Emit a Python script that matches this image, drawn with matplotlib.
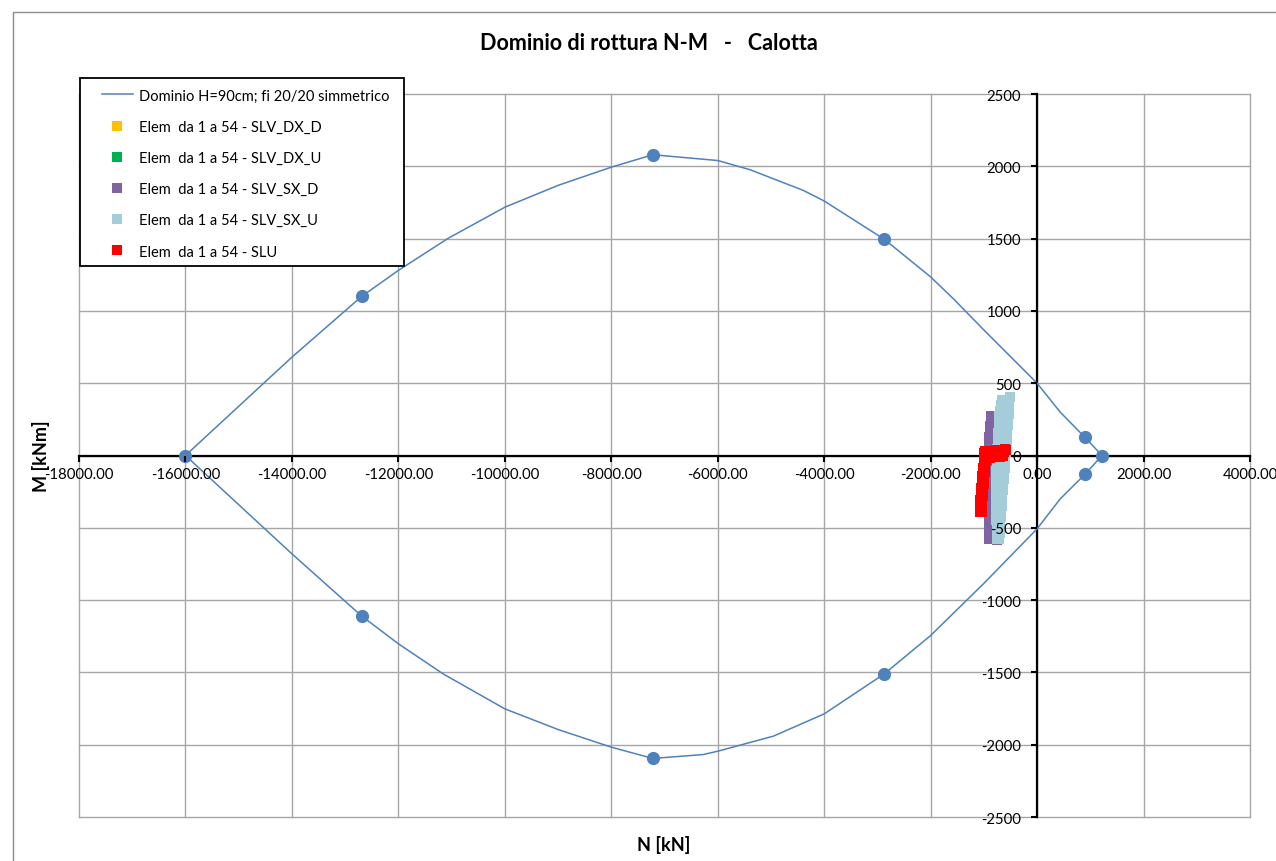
import matplotlib
matplotlib.use("Agg")
import matplotlib.pyplot as plt
from matplotlib.patches import Rectangle
from matplotlib.lines import Line2D
from matplotlib.ticker import FuncFormatter

plt.rcParams['font.family'] = ['Lato', 'DejaVu Sans']

# ---------------------------------------------------------------- data
# N-M interaction domain (closed contour, N in kN, M in kNm)
domain_n = [-16000, -14000, -12690, -12000, -11060, -10000, -9000, -8000, -7220,
            -6000, -5390, -4390, -4000, -2870, -2000, -1570, -1000, 0, 434, 900,
            1220, 900, 434, 0, -1007, -2000, -2870, -4000, -4955, -6000, -6270,
            -7220, -8000, -9000, -10000, -11160, -12000, -12690, -14000, -16000]
domain_m = [0, 680, 1100, 1280, 1503, 1717, 1868, 1994, 2080,
            2040, 1976, 1833, 1760, 1495, 1235, 1083, 868, 500, 300, 125,
            0, -130, -300, -507, -887, -1245, -1510, -1787, -1941, -2045, -2068,
            -2095, -2017, -1895, -1752, -1510, -1302, -1110, -680, 0]

# characteristic points of the domain
key_n = [-16000, -12690, -7220, -2870, 900, 1220, 900, -2870, -7220, -12690]
key_m = [0, 1100, 2080, 1495, 125, 0, -130, -1510, -2095, -1110]

# SLV_SX_U combination, elements 1-54
sx_u_n = [-512, -668, -520, -684, -528, -700, -535, -708, -543, -714, -550, -720,
          -558, -726, -566, -732, -573, -738, -581, -744, -589, -750, -596, -755,
          -604, -760, -612, -764, -619, -768, -627, -772, -634, -774, -642, -776,
          -650, -778, -657, -778, -665, -776, -672, -772, -680, -768, -688, -762,
          -695, -756, -703, -750, -708, -745]
sx_u_m = [402, 386, 365, 348, 326, 309, 290, 271, 251, 233, 214, 195,
          176, 158, 139, 120, 101, 82, 63, 45, 26, 7, -12, -31,
          -50, -69, -87, -106, -125, -144, -163, -182, -200, -219, -238, -257,
          -276, -295, -313, -332, -351, -370, -389, -408, -426, -445, -464, -483,
          -502, -521, -539, -558, -577, -580]

# SLV_SX_D combination, elements 1-54
sx_d_n = [-865, -720, -872, -722, -880, -724, -888, -726, -895, -728, -900, -730,
          -905, -732, -908, -734, -910, -735, -910, -736, -910, -737, -908, -738,
          -907, -739, -906, -740, -905, -740, -904, -741, -903, -741, -902, -742,
          -901, -742, -900, -743, -900, -743, -900, -744, -899, -744, -898, -745,
          -897, -745, -896, -746, -892, -746]
sx_d_m = [272, 265, 237, 230, 201, 194, 166, 158, 130, 122, 95, 87,
          59, 51, 24, 16, -12, -20, -47, -55, -83, -91, -118, -126,
          -154, -162, -189, -197, -225, -233, -260, -268, -296, -304, -331, -339,
          -367, -375, -402, -410, -438, -446, -473, -481, -509, -517, -544, -552,
          -565, -570, -575, -578, -580, -582]

# SLV_DX_D / SLV_DX_U combinations (same forces as the SX ones)
dx_d_n, dx_d_m = list(sx_d_n), list(sx_d_m)
dx_u_n, dx_u_m = list(sx_u_n), list(sx_u_m)

# SLU combination, elements 1-54
slu_n = [-1079, -1044, -1075, -1040, -1070, -1035, -1065, -1030, -1059, -1024,
         -1053, -1018, -1047, -1012, -1041, -1006, -1035, -1000, -1028, -993,
         -1021, -986, -1013, -978, -1005, -970, -997, -962, -990, -955,
         -985, -960, -900, -840, -780, -720, -660, -610, -590,
         -940, -880, -820, -760, -700, -640,
         -920, -850, -790, -730, -670, -620, -960, -1000, -975]
slu_m = [-392, -392, -364, -364, -336, -336, -308, -308, -280, -280,
         -252, -252, -224, -224, -196, -196, -168, -168, -140, -140,
         -112, -112, -84, -84, -56, -56, -28, -28, 0, 0,
         30, 32, 33, 34, 36, 38, 41, 44, 40,
         -15, -14, -13, -11, -9, -5,
         10, 11, 12, 14, 17, 22, 15, 15, -10]

legend_labels = ["Dominio H=90cm; fi 20/20 simmetrico",
                 "Elem  da 1 a 54 - SLV_DX_D",
                 "Elem  da 1 a 54 - SLV_DX_U",
                 "Elem  da 1 a 54 - SLV_SX_D",
                 "Elem  da 1 a 54 - SLV_SX_U",
                 "Elem  da 1 a 54 - SLU"]

x_ticks = list(range(-18000, 4001, 2000))
y_ticks = list(range(-2500, 2501, 500))

# ---------------------------------------------------------------- styling
BLUE = '#4F81BD'
C_DX_D = '#FFC000'
C_DX_U = '#00B050'
C_SX_D = '#8064A2'
C_SX_U = '#A5CDD9'
C_SLU = '#FF0000'
GRID = '#A6A6A6'

W, H = 1276, 862
fig = plt.figure(figsize=(W / 100, H / 100), dpi=100)


def fx(px):
    return px / W


def fy(py):
    return 1 - py / H


ax = fig.add_axes([fx(79), fy(818), fx(1250) - fx(79), fy(95) - fy(818)])
ax.set_xlim(-18000, 4000)
ax.set_ylim(-2500, 2500)
ax.set_xticks(x_ticks)
ax.set_yticks(y_ticks)
ax.xaxis.set_major_formatter(FuncFormatter(lambda v, p: f"{v:.2f}"))
ax.yaxis.set_major_formatter(FuncFormatter(lambda v, p: f"{int(v)}"))

# gridlines under everything, tick labels above the data
for xv in x_ticks:
    ax.axvline(xv, color=GRID, lw=1.0, zorder=0.2, clip_on=False)
for yv in y_ticks:
    ax.axhline(yv, color=GRID, lw=1.0, zorder=0.2, clip_on=False)
ax.xaxis.set_zorder(20)
ax.yaxis.set_zorder(20)

for side in ('top', 'right'):
    ax.spines[side].set_visible(False)
ax.spines['left'].set_position(('data', 0))
ax.spines['bottom'].set_position(('data', 0))
for side in ('left', 'bottom'):
    ax.spines[side].set_linewidth(1.6)
    ax.spines[side].set_color('black')
    ax.spines[side].set_zorder(1.5)

ax.tick_params(axis='x', direction='out', length=4.5, width=1.5, pad=4,
               labelsize=10.7, colors='black')
ax.tick_params(axis='y', direction='out', length=4.5, width=1.5, pad=7,
               labelsize=10.7, colors='black')

# domain contour and its characteristic points
ax.plot(domain_n, domain_m, color=BLUE, lw=1.1, zorder=3, clip_on=False)
ax.plot(key_n, key_m, 'o', color=BLUE, ms=9.5, mew=0, zorder=4, clip_on=False)

# element forces
MS = 6.5
ax.plot(dx_d_n, dx_d_m, 's', color=C_DX_D, ms=MS, mew=0, zorder=5)
ax.plot(dx_u_n, dx_u_m, 's', color=C_DX_U, ms=MS, mew=0, zorder=6)
ax.plot(sx_d_n, sx_d_m, 's', color=C_SX_D, ms=MS, mew=0, zorder=7)
ax.plot(sx_u_n, sx_u_m, 's', color=C_SX_U, ms=MS, mew=0, zorder=8)
ax.plot(slu_n, slu_m, 's', color=C_SLU, ms=MS, mew=0, zorder=9)

# outer chart frame
fig.patches.append(Rectangle((fx(13), -0.05), 1.2, fy(13) + 0.05,
                             transform=fig.transFigure, facecolor='none',
                             edgecolor='#8C8C8C', lw=1.0, zorder=0.5))

# titles
fig.text(fx(649), fy(44), "Dominio di rottura N-M   -   Calotta",
         ha='center', va='center', fontsize=15.5, fontweight='bold')
fig.text(fx(41), fy(456), "M [kNm]", rotation=90, ha='center', va='center',
         fontsize=13, fontweight='bold')
fig.text(fx(664), fy(845), "N [kN]", ha='center', va='center',
         fontsize=13, fontweight='bold')

# legend box
fig.patches.append(Rectangle((fx(80), fy(267)), fx(404) - fx(80), fy(79) - fy(267),
                             transform=fig.transFigure, facecolor='white',
                             edgecolor='black', lw=1.3, zorder=1))
handles = [Line2D([], [], color=BLUE, lw=1.1)]
for c in (C_DX_D, C_DX_U, C_SX_D, C_SX_U, C_SLU):
    handles.append(Line2D([], [], marker='s', ls='none', color=c, ms=6.5, mew=0))
fs = 10.5
fpx = fs * 100 / 72
fig.legend(handles, legend_labels, loc='upper left',
           bbox_to_anchor=(fx(101.7), fy(89.5)), bbox_transform=fig.transFigure,
           frameon=False, borderpad=0, borderaxespad=0, fontsize=fs,
           handlelength=31.3 / fpx, handletextpad=6.3 / fpx,
           labelspacing=1.18)

fig.savefig("out.png", dpi=100)
